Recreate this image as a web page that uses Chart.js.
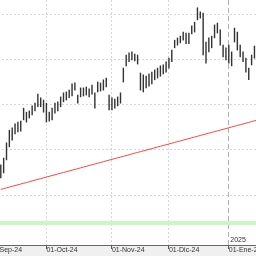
<!DOCTYPE html>
<html>
<head>
<meta charset="utf-8">
<script src="https://cdn.jsdelivr.net/npm/chart.js@4"></script>
<style>
  html, body { margin: 0; padding: 0; background: #fff; overflow: hidden; }
  #wrap { position: absolute; left: -22px; top: 0; width: 285px; height: 256px; }
</style>
</head>
<body>
<div id="wrap"><canvas id="chart"></canvas></div>
<script>
// daily bars, index 0 = 09-Sep-24 (trading days)
const highs = [
  106.7, 108.2, 111.6, 114.4, 114.9, 115.8, 116.2, 116.4, 119.3, 118.4,
  118.7, 119.8, 120.4, 122.4, 121.6, 121.1, 120.4, 118.4, 119.3, 120.4,
  120.7, 121.8, 122.7, 122.9, 123.3, 124.7, 124.9, 122.2, 123.8, 123.8,
  124.0, 123.6, 124.4, 122.7, 125.1, 124.9, 125.6, 126.0, 122.2, 121.6,
  121.3, 121.8, 122.7, 128.2, 131.1, 131.6, 131.8, 131.3, 131.1, 127.1,
  126.7, 126.4, 126.9, 127.3, 127.8, 128.2, 128.7, 128.9, 129.6, 130.4,
  132.2, 134.4, 134.9, 135.3, 136.2, 136.0, 136.0, 137.6, 138.4, 141.6,
  140.7, 140.4, 134.0, 134.9, 135.3, 137.8, 138.2, 136.7, 133.3, 132.7,
  133.3, 131.8, 137.1, 136.2, 133.3, 131.8, 130.4, 128.2, 131.1, 133.1,
  133.6
];
const lows = [
  103.8, 104.9, 107.8, 110.7, 112.2, 113.6, 114.0, 114.2, 116.7, 116.2,
  117.1, 117.8, 118.7, 119.6, 119.6, 118.4, 116.2, 116.4, 116.7, 118.2,
  118.7, 119.6, 120.7, 121.1, 121.6, 122.0, 123.3, 120.4, 121.8, 122.0,
  122.2, 121.8, 122.4, 119.3, 122.9, 123.1, 123.3, 124.0, 118.9, 118.9,
  119.3, 119.8, 120.4, 125.1, 128.7, 129.6, 130.0, 129.8, 129.1, 123.3,
  122.9, 123.8, 124.2, 124.7, 125.6, 126.0, 126.4, 126.9, 127.3, 128.2,
  129.6, 132.7, 133.3, 133.8, 134.4, 133.6, 133.6, 135.8, 136.2, 138.9,
  139.3, 131.1, 129.3, 131.8, 132.7, 134.9, 136.0, 133.3, 130.7, 130.0,
  129.3, 128.7, 134.0, 132.2, 130.7, 129.6, 127.3, 125.6, 128.9, 130.4,
  131.3
];
// long moving average
const movingAvg = [
  101.24, 101.41, 101.58, 101.76, 101.93, 102.10, 102.27, 102.44, 102.61, 102.78,
  102.95, 103.12, 103.30, 103.47, 103.64, 103.81, 103.98, 104.15, 104.32, 104.49,
  104.67, 104.84, 105.01, 105.18, 105.35, 105.52, 105.69, 105.86, 106.03, 106.21,
  106.38, 106.55, 106.72, 106.89, 107.06, 107.23, 107.40, 107.58, 107.75, 107.92,
  108.09, 108.26, 108.43, 108.60, 108.77, 108.94, 109.12, 109.29, 109.46, 109.63,
  109.80, 109.97, 110.14, 110.31, 110.49, 110.66, 110.83, 111.00, 111.17, 111.34,
  111.51, 111.68, 111.85, 112.03, 112.20, 112.37, 112.54, 112.71, 112.88, 113.05,
  113.22, 113.40, 113.57, 113.74, 113.91, 114.08, 114.25, 114.42, 114.59, 114.76,
  114.94, 115.11, 115.28, 115.45, 115.62, 115.79, 115.96, 116.13, 116.31, 116.48,
  116.65
];
const supportLevel = 93.8;

const monthIdx = [-4, 16, 39, 59, 80];
const monthLabels = ['01-Sep-24', '01-Oct-24', '01-Nov-24', '01-Dic-24', '01-Ene-25'];
const yearIdx = 80;
const yearLabel = '2025';
const priceTicks = [100, 110, 120, 130, 140];

const xMin = -8, xMax = 92;
const yMin = 88.89, yMax = 143.33;

const bars = highs.map((h, i) => ({ x: i, y: [lows[i], h] }));
const avgLine = movingAvg.map((v, i) => ({ x: i, y: v }));
const bandLine = [{ x: xMin, y: supportLevel }, { x: xMax, y: supportLevel }];

const isYear = (ctx) => ctx.tick && ctx.tick.value === yearIdx;

const chartDecor = {
  id: 'chartDecor',
  beforeDraw(chart) {
    const { ctx, chartArea, width, height } = chart;
    ctx.save();
    ctx.fillStyle = '#f0f0f0';
    ctx.fillRect(0, chartArea.bottom, width, height - chartArea.bottom);
    ctx.restore();
  },
  afterDraw(chart) {
    const { ctx, chartArea } = chart;
    const x = chart.scales.x.getPixelForValue(yearIdx);
    ctx.save();
    ctx.font = '7px "Liberation Sans", Arial, sans-serif';
    ctx.fillStyle = '#333';
    ctx.textBaseline = 'bottom';
    ctx.fillText(yearLabel, x + 1.5, chartArea.bottom - 1);
    ctx.restore();
  },
};

new Chart(document.getElementById('chart'), {
  type: 'bar',
  data: {
    datasets: [
      {
        type: 'line',
        data: bandLine,
        borderColor: '#c8f7c2',
        borderWidth: 4,
        pointRadius: 0,
        order: 3,
      },
      {
        type: 'line',
        data: avgLine,
        borderColor: '#ff4040',
        borderWidth: 1,
        pointRadius: 0,
        tension: 0,
        order: 2,
      },
      {
        type: 'bar',
        data: bars,
        backgroundColor: '#333',
        borderWidth: 0,
        barThickness: 0.75,
        order: 1,
      },
    ],
  },
  options: {
    responsive: true,
    maintainAspectRatio: false,
    animation: false,
    layout: { padding: 0 },
    plugins: {
      legend: { display: false },
      tooltip: { enabled: false },
    },
    scales: {
      x: {
        type: 'linear',
        min: xMin,
        max: xMax,
        offset: false,
        afterBuildTicks: (scale) => {
          scale.ticks = monthIdx.map((v) => ({ value: v }));
        },
        afterFit: (scale) => {
          scale.height = 11;
        },
        ticks: {
          autoSkip: false,
          maxRotation: 0,
          align: 'start',
          padding: -3,
          color: '#333',
          font: { family: '"Liberation Sans", Arial, sans-serif', size: 7 },
          callback: (v) => monthLabels[monthIdx.indexOf(v)] || '',
        },
        grid: {
          offset: false,
          color: (ctx) => (isYear(ctx) ? '#b0b0b0' : '#d6d6d6'),
          tickColor: '#555',
          tickLength: 4,
        },
        border: {
          display: true,
          color: '#666',
          dash: (ctx) => (isYear(ctx) ? [5, 3] : [2, 2]),
        },
      },
      y: {
        min: yMin,
        max: yMax,
        afterBuildTicks: (scale) => {
          scale.ticks = priceTicks.map((v) => ({ value: v }));
        },
        afterFit: (scale) => {
          scale.width = 0;
        },
        ticks: { display: false },
        grid: { color: '#d6d6d6', drawTicks: false },
        border: { display: false, dash: [2, 2] },
      },
    },
  },
  plugins: [chartDecor],
});
</script>
</body>
</html>
